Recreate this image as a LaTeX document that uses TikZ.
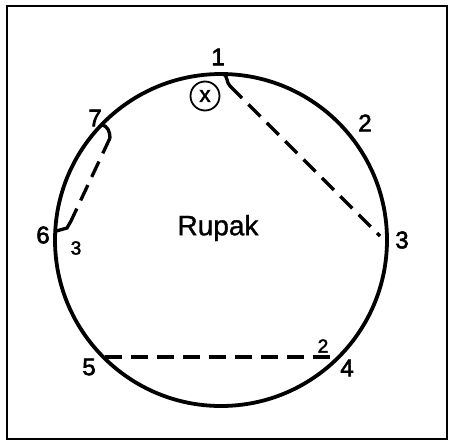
\documentclass[tikz,border=0pt]{standalone}
\usepackage{fontspec}
\setmainfont{Liberation Sans}
\newfontfamily\medfont[FakeBold=1.2]{Liberation Sans}
\newfontfamily\boldfont[FakeBold=2.5]{Liberation Sans}
\begin{document}
\begin{tikzpicture}[x=1pt,y=-1pt,
  ringline/.style={line width=3.8pt},
  dashline/.style={line width=3.3pt, dash pattern=on 17pt off 9pt},
  solidline/.style={line width=3.3pt, line cap=round},
  biglbl/.style={inner sep=0pt, font=\boldfont\fontsize{24}{24}\selectfont},
  smalllbl/.style={inner sep=0pt, font=\boldfont\fontsize{19}{19}\selectfont},
  namelbl/.style={inner sep=0pt, font=\medfont\fontsize{28}{28}\selectfont},
]
\useasboundingbox (0,0) rectangle (449,442);
\draw[line width=1.6pt] (7,6) rectangle (447,439);
\node[draw, circle, ringline, minimum size=332pt, inner sep=0pt, outer sep=0pt] (ring) at (221,240) {};
% labels
\node[biglbl] (l1) at (218,57) {1};
\node[biglbl] (l2) at (365,123) {2};
\node[biglbl] (l3) at (402,240) {3};
\node[biglbl] (l4) at (347,368) {4};
\node[biglbl] (l5) at (89,367) {5};
\node[biglbl] (l6) at (43,235) {6};
\node[biglbl] (l7) at (95,118) {7};
\node[smalllbl] (s3) at (76,248) {3};
\node[smalllbl] (s2) at (323,346) {2};
\node[namelbl] (name) at (218,228) {Rupak};
\node[draw, circle, line width=1.8pt, minimum size=29pt, inner sep=0pt, font=\boldfont\fontsize{22}{22}\selectfont] (cx) at (205,96) {x};
% chord 1 - 3
\coordinate (a1) at (ring.89);
\coordinate (b1) at (230,86);
\coordinate (e3) at (380,236);
\draw[solidline] (a1) to[out=-40,in=135] (b1);
\draw[dashline] (b1) -- (e3);
% chord 7 - 6
\coordinate (a7) at (ring.136);
\coordinate (h7) at (110,138);
\coordinate (c6) at (71,221);
\coordinate (a6) at (ring.177);
\draw[solidline] (a7) to[out=-10,in=90] (h7);
\draw[dashline] (h7) -- (c6);
\draw[solidline] (c6) -- (67,228) -- (a6);
% chord 5 - 4
\coordinate (a5) at (105,357);
\coordinate (a4) at (333,357);
\draw[dashline] (a5) -- (a4);
\end{tikzpicture}
\end{document}
